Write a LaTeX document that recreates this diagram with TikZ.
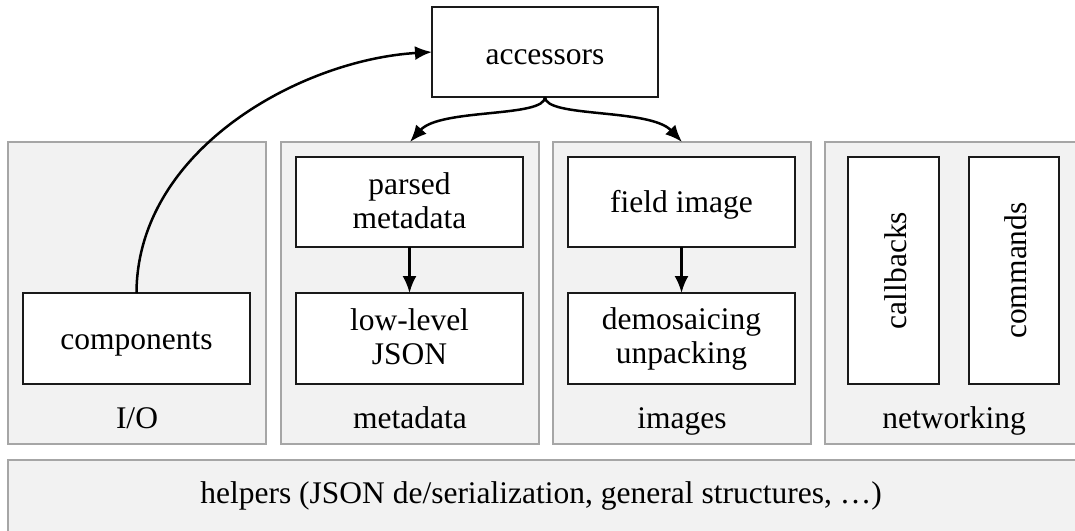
\documentclass[tikz,border=0pt]{standalone}
\usepackage{fontspec}
\setmainfont{Liberation Serif}
\usetikzlibrary{arrows.meta}
\definecolor{panelfill}{HTML}{F2F2F2}
\definecolor{panelline}{HTML}{A6A6A6}
\definecolor{boxline}{HTML}{1A1A1A}
\tikzset{
  txt/.style={font=\fontsize{31.5}{34}\selectfont},
  panel/.style={draw=panelline, fill=panelfill, line width=1.3pt, inner sep=0pt, outer sep=0pt},
  box/.style={txt, draw=boxline, fill=white, line width=1.3pt, inner sep=0pt, outer sep=0pt,
              align=center,
              execute at begin node={\rule{0pt}{28pt}},
              execute at end node={\rule[-3pt]{0pt}{3pt}}},
  plabel/.style={txt, anchor=base, inner sep=0pt},
  conn/.style={line width=2.5pt, -{Latex[length=17pt,width=14pt]}}
}
\begin{document}
\begin{tikzpicture}[x=1pt,y=-1pt]
\useasboundingbox (0,0) rectangle (1075,530);
\clip (0,0) rectangle (1075,530);
% panels
\node[panel, minimum width=258pt, minimum height=302pt] (io)   at (137,293) {};
\node[panel, minimum width=258pt, minimum height=302pt] (meta) at (410,293) {};
\node[panel, minimum width=258pt, minimum height=302pt] (img)  at (682,293) {};
\node[panel, minimum width=258pt, minimum height=302pt] (net)  at (954,293) {};
\node[panel, minimum width=1075pt, minimum height=90pt] (help) at (545.5,505) {};
% panel labels
\node[plabel] (lio)   at (137,428) {I/O};
\node[plabel] (lmeta) at (410,428) {metadata};
\node[plabel] (limg)  at (682,428) {images};
\node[plabel] (lnet)  at (954,428) {networking};
\node[plabel] (lhelp) at (541,503) {helpers (JSON de/serialization, general structures, …)};
% boxes
\node[box, minimum width=226pt, minimum height=90pt] (acc) at (545,52) {accessors};
\node[box, minimum width=227pt, minimum height=91pt] (comp) at (136.5,338.5) {components};
\node[box, minimum width=227pt, minimum height=90pt] (pm) at (409.5,202) {parsed\\metadata};
\node[box, minimum width=227pt, minimum height=91pt] (ll) at (409.5,338.5) {low-level\\JSON};
\node[box, minimum width=227pt, minimum height=90pt] (fi) at (681.5,202) {field image};
\node[box, minimum width=227pt, minimum height=91pt] (dm) at (681.5,338.5) {demosaicing\\unpacking};
\node[box, rotate=90, minimum width=227pt, minimum height=91pt] (cb) at (893.5,270.5) {callbacks};
\node[box, rotate=90, minimum width=227pt, minimum height=90pt] (cmd) at (1014,270.5) {commands};
% connectors
\draw[conn] (comp.north) .. controls (137,150) and (300,60) .. (acc.west);
\draw[conn] (acc.south) .. controls (545,118) and (440,108) .. (meta.north);
\draw[conn] (acc.south) .. controls (545,118) and (650,108) .. (img.north);
\draw[conn] (pm.south) -- (ll.north);
\draw[conn] (fi.south) -- (dm.north);
\end{tikzpicture}
\end{document}
